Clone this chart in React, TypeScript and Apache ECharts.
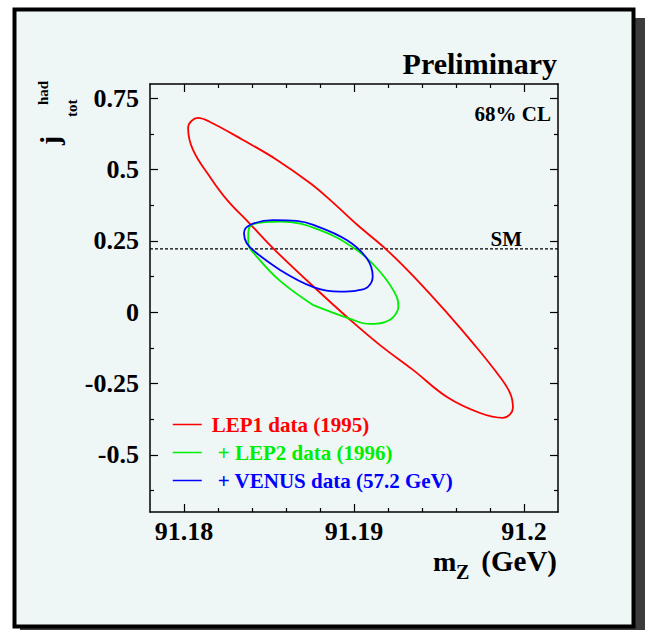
import React, { useEffect, useRef } from "react";
import * as echarts from "echarts";

// ---- data ----
const X_MIN = 91.178;
const X_MAX = 91.202;
const Y_MIN = -0.7;
const Y_MAX = 0.8;
const X_TICKS = [91.18, 91.19, 91.2];
const X_MINOR = [91.182, 91.184, 91.186, 91.188, 91.192, 91.194, 91.196, 91.198];
const Y_TICKS = [-0.5, -0.25, 0, 0.25, 0.5, 0.75];
const Y_MINOR = [-0.625, -0.375, -0.125, 0.125, 0.375, 0.625];
const SM_VALUE = 0.222;

const SERIES_NAMES = ["LEP1 data (1995)", "+ LEP2 data (1996)", "+ VENUS data (57.2 GeV)"];

// LEP1 68% CL contour (mZ, j_tot^had)
const LEP1: [number, number][] = [
  [91.18771, 0.085], [91.18535, 0.218], [91.18388, 0.31], [91.18253, 0.394],
  [91.18153, 0.474], [91.18053, 0.569], [91.18024, 0.646], [91.18082, 0.681],
  [91.18153, 0.667], [91.18347, 0.604], [91.18547, 0.534], [91.18741, 0.453],
  [91.18859, 0.394], [91.19024, 0.304], [91.19194, 0.218], [91.19371, 0.113],
  [91.19547, -0.002], [91.197, -0.108], [91.19841, -0.213], [91.19918, -0.283],
  [91.19935, -0.335], [91.19876, -0.37], [91.19741, -0.353], [91.19547, -0.297],
  [91.19347, -0.202], [91.19153, -0.115], [91.18965, -0.02], [91.18771, 0.085],
];

// + LEP2 contour
const LEP2: [number, number][] = [
  [91.18761, 0.025], [91.18565, 0.11], [91.18428, 0.195], [91.18378, 0.242],
  [91.18378, 0.277], [91.18408, 0.309], [91.18565, 0.318], [91.188, 0.288],
  [91.19016, 0.218], [91.19153, 0.142], [91.19251, 0.055], [91.19261, 0.02],
  [91.19231, -0.017], [91.19172, -0.036], [91.19094, -0.041], [91.18977, -0.023],
  [91.18761, 0.025],
];

// + VENUS contour
const VENUS: [number, number][] = [
  [91.18565, 0.148], [91.18428, 0.207], [91.18369, 0.242], [91.18353, 0.277],
  [91.18388, 0.306], [91.18525, 0.323], [91.18663, 0.32], [91.18761, 0.306],
  [91.18957, 0.253], [91.19075, 0.189], [91.1911, 0.125], [91.19082, 0.089],
  [91.19016, 0.076], [91.18918, 0.072], [91.18761, 0.088], [91.18565, 0.148],
];

const COLORS = ["#ff0000", "#00ee00", "#0000ff"];
const FONT = "Liberation Serif";
const BG = "#eef6f6";

const fmt = (v: number) => String(+Number(v).toFixed(3));

function App() {
  const ref = useRef<HTMLDivElement>(null);
  useEffect(() => {
    if (!ref.current) return;
    const chart = echarts.init(ref.current, undefined, { renderer: "svg" });
    const label = {
      fontFamily: FONT,
      fontWeight: "bold" as const,
      fontSize: 26,
      color: "#000",
    };
    const axisLine = { show: true, onZero: false, lineStyle: { color: "#000", width: 1.5 } };
    const noLine = { show: false, onZero: false };
    const tick = (vals: number[], len: number) => ({
      show: true,
      inside: true,
      length: len,
      customValues: vals,
      lineStyle: { color: "#000", width: 1.2 },
    });
    const xBase = { type: "value" as const, min: X_MIN, max: X_MAX, splitLine: { show: false } };
    const yBase = { type: "value" as const, min: Y_MIN, max: Y_MAX, splitLine: { show: false } };

    const text = (t: string, x: number, y: number, size: number, align: string, extra: any = {}) => ({
      type: "text",
      x,
      y,
      z: 10,
      ...extra,
      style: {
        text: t,
        fontFamily: FONT,
        fontWeight: "bold",
        fontSize: size,
        fill: "#000",
        align,
        verticalAlign: "middle",
      },
    });

    const option: any = {
      animation: false,
      grid: { left: 150, top: 84, width: 408, height: 428 },
      xAxis: [
        { ...xBase, position: "bottom", axisLine, axisTick: tick(X_TICKS, 8),
          axisLabel: { ...label, margin: 6, customValues: X_TICKS, formatter: fmt } },
        { ...xBase, position: "bottom", axisLine: noLine, axisTick: tick(X_MINOR, 4), axisLabel: { show: false } },
        { ...xBase, position: "top", axisLine, axisTick: tick(X_TICKS, 8), axisLabel: { show: false } },
        { ...xBase, position: "top", axisLine: noLine, axisTick: tick(X_MINOR, 4), axisLabel: { show: false } },
      ],
      yAxis: [
        { ...yBase, position: "left", axisLine, axisTick: tick(Y_TICKS, 8),
          axisLabel: { ...label, margin: 11, customValues: Y_TICKS, formatter: fmt } },
        { ...yBase, position: "left", axisLine: noLine, axisTick: tick(Y_MINOR, 4), axisLabel: { show: false } },
        { ...yBase, position: "right", axisLine, axisTick: tick(Y_TICKS, 8), axisLabel: { show: false } },
        { ...yBase, position: "right", axisLine: noLine, axisTick: tick(Y_MINOR, 4), axisLabel: { show: false } },
      ],
      legend: {
        orient: "vertical",
        left: 172,
        top: 414,
        itemWidth: 29,
        itemHeight: 14,
        itemGap: 7,
        padding: 0,
        itemStyle: { opacity: 0 },
        lineStyle: { width: 1.5 },
        textStyle: { fontFamily: FONT, fontWeight: "bold", fontSize: 21 },
        data: [
          { name: SERIES_NAMES[0], textStyle: { color: COLORS[0], padding: [0, 0, 0, 5] } },
          { name: SERIES_NAMES[1], textStyle: { color: COLORS[1], padding: [0, 0, 0, 11] } },
          { name: SERIES_NAMES[2], textStyle: { color: COLORS[2], padding: [0, 0, 0, 11] } },
        ],
      },
      series: [
        ...[LEP1, LEP2, VENUS].map((d, i) => ({
          name: SERIES_NAMES[i],
          type: "line",
          data: d,
          smooth: 0.4,
          symbol: "none",
          xAxisIndex: 0,
          yAxisIndex: 0,
          color: COLORS[i],
          lineStyle: { color: COLORS[i], width: 1.8 },
          z: 3 + i,
        })),
        {
          name: "SM",
          type: "line",
          data: [[X_MIN, SM_VALUE], [X_MAX, SM_VALUE]],
          symbol: "none",
          xAxisIndex: 0,
          yAxisIndex: 0,
          lineStyle: { color: "#000", width: 1.3, type: [3, 2] },
          z: 2,
        },
      ],
      graphic: [
        { type: "rect", z: -20, shape: { x: 20, y: 18, width: 640, height: 640 }, style: { fill: "#3c3c3c" } },
        { type: "rect", z: -10, shape: { x: 14.5, y: 9.5, width: 619, height: 617 },
          style: { fill: BG, stroke: "#000", lineWidth: 4 } },
        text("Preliminary", 557, 63.7, 30, "right"),
        text("68% CL", 551, 113.5, 21, "right"),
        text("SM", 522, 238.5, 21, "right"),
        text("m", 433, 561, 28, "left"),
        text("Z", 456, 572, 20, "left"),
        text("(GeV)", 557, 561, 29, "right"),
        text("j", 50, 145, 27, "left", { rotation: Math.PI / 2 }),
        text("tot", 72.3, 117, 15, "left", { rotation: Math.PI / 2 }),
        text("had", 43.3, 105, 15, "left", { rotation: Math.PI / 2 }),
      ],
    };
    chart.setOption(option);
    return () => chart.dispose();
  }, []);
  return (
    <div
      ref={ref}
      style={{ position: "absolute", left: 0, top: 0, width: 645, height: 630 }}
    />
  );
}

export default App;
